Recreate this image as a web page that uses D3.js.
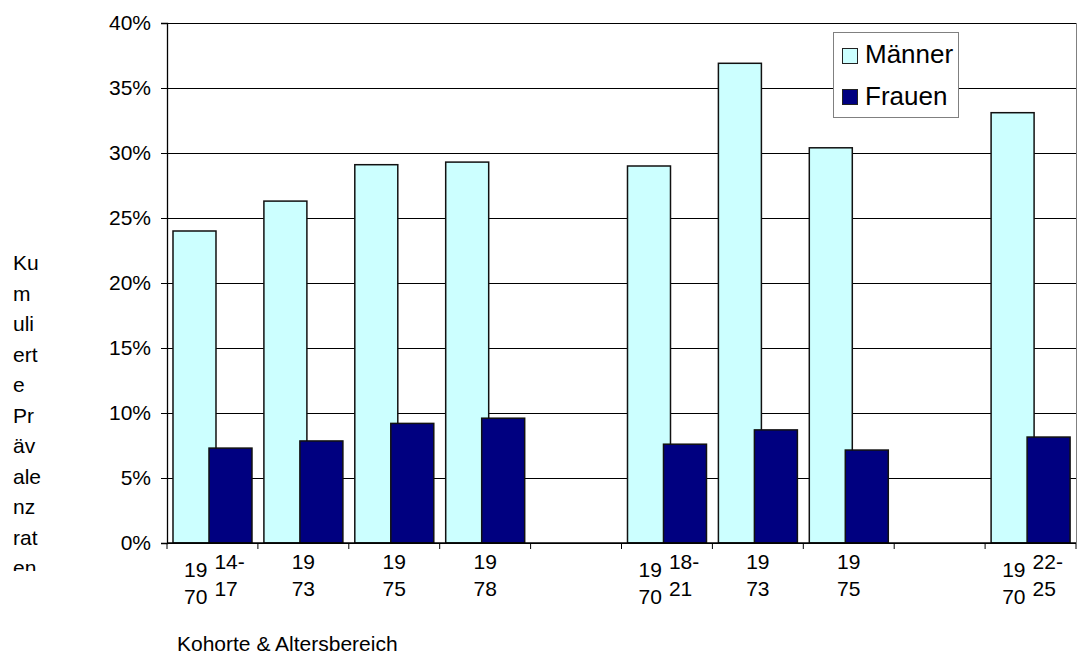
<!DOCTYPE html>
<html>
<head>
<meta charset="utf-8">
<script src="https://cdn.jsdelivr.net/npm/d3@7"></script>
<style>
  html, body { margin: 0; padding: 0; background: #fff; }
  svg { display: block; font-family: Arial, "Liberation Sans", sans-serif; }
</style>
</head>
<body>
<svg id="chart" width="1077" height="661"></svg>
<script>
// ---- data ----
const cohorts   = ["1970", "1973", "1975", "1978", "", "1970", "1973", "1975", "", "1970"];
const ageRanges = ["14-17", "", "", "", "", "18-21", "", "", "", "22-25"];
const maenner   = [24.0, 26.3, 29.1, 29.3, null, 29.0, 36.9, 30.4, null, 33.1];
const frauen    = [7.3, 7.85, 9.2, 9.6, null, 7.6, 8.7, 7.15, null, 8.15];
const yTicks    = [0, 5, 10, 15, 20, 25, 30, 35, 40];
const seriesNames = ["Männer", "Frauen"];
const yTitleLines = ["Ku", "m", "uli", "ert", "e", "Pr", "äv", "ale", "nz", "rat", "en"];
const xTitle = "Kohorte & Altersbereich";

(function () {
const colors = { "Männer": "#CCFFFF", "Frauen": "#000080" };
const FS = 21;

const svg = d3.select("#chart");
const pL = 167, pR = 1076, pT = 23, pB = 543;

const idx = d3.range(cohorts.length);
const x = d3.scaleBand().domain(idx).range([pL, pR]).padding(0);
const y = d3.scaleLinear().domain([0, 40]).range([pB, pT]);
const bw = x.bandwidth();

// gridlines
svg.append("g").selectAll("line").data(yTicks).join("line")
  .attr("x1", pL).attr("x2", pR)
  .attr("y1", d => y(d)).attr("y2", d => y(d))
  .attr("stroke", "#000").attr("stroke-width", 1).attr("shape-rendering", "crispEdges");

// right border
svg.append("line").attr("x1", pR).attr("x2", pR).attr("y1", pT).attr("y2", pB)
  .attr("stroke", "#808080").attr("stroke-width", 1).attr("shape-rendering", "crispEdges");

// bars
const mOff = bw * 0.066, mW = bw * 0.473;
const fOff = bw * 0.462, fW = bw * 0.473;
svg.append("g").selectAll("rect").data(idx.filter(i => maenner[i] != null)).join("rect")
  .attr("x", i => x(i) + mOff).attr("width", mW)
  .attr("y", i => y(maenner[i])).attr("height", i => y(0) - y(maenner[i]))
  .attr("fill", colors["Männer"]).attr("stroke", "#111").attr("stroke-width", 1.5);
svg.append("g").selectAll("rect").data(idx.filter(i => frauen[i] != null)).join("rect")
  .attr("x", i => x(i) + fOff).attr("width", fW)
  .attr("y", i => y(frauen[i])).attr("height", i => y(0) - y(frauen[i]))
  .attr("fill", colors["Frauen"]).attr("stroke", "#111").attr("stroke-width", 1.5);

// y axis
const yAxis = d3.axisLeft(y).tickValues(yTicks).tickFormat(d => d + "%").tickSize(6).tickPadding(10);
const gy = svg.append("g").attr("transform", `translate(${pL},0)`).call(yAxis);
gy.select(".domain").attr("stroke", "#000").attr("stroke-width", 1.3);
gy.selectAll(".tick line").attr("stroke", "#000");
gy.selectAll(".tick text").attr("font-size", FS).attr("font-family", "Arial, 'Liberation Sans', sans-serif").attr("fill", "#000");

// x axis (ticks at category boundaries)
const xB = idx.map(i => x(i)).concat([pR]);
svg.append("line").attr("x1", pL).attr("x2", pR).attr("y1", pB).attr("y2", pB)
  .attr("stroke", "#000").attr("stroke-width", 1.3);
svg.append("g").selectAll("line").data(xB).join("line")
  .attr("x1", d => d).attr("x2", d => d).attr("y1", pB).attr("y2", pB + 6)
  .attr("stroke", "#000").attr("stroke-width", 1);

// x labels
function split2(s) { const h = Math.ceil(s.length / 2); return [s.slice(0, h), s.slice(h)]; }
const gl = svg.append("g").attr("font-size", FS).attr("fill", "#000");
idx.forEach(i => {
  const c = x(i) + bw / 2;
  if (!cohorts[i]) return;
  const cp = split2(cohorts[i]);
  if (ageRanges[i]) {
    const dash = ageRanges[i].indexOf("-") + 1;
    const ap = [ageRanges[i].slice(0, dash), ageRanges[i].slice(dash)];
    cp.forEach((t, k) => gl.append("text").attr("x", c - 5).attr("y", 577 + k * 27).attr("text-anchor", "end").text(t));
    ap.forEach((t, k) => gl.append("text").attr("x", c + 2).attr("y", 569 + k * 27).attr("text-anchor", "start").text(t));
  } else {
    cp.forEach((t, k) => gl.append("text").attr("x", c).attr("y", 569 + k * 27).attr("text-anchor", "middle").text(t));
  }
});

// x title
svg.append("text").attr("x", 177).attr("y", 651).attr("font-size", FS).attr("fill", "#000").text(xTitle);

// y title (wrapped, clipped)
svg.append("clipPath").attr("id", "ytclip").append("rect").attr("x", 0).attr("y", 240).attr("width", 80).attr("height", 331);
svg.append("g").attr("clip-path", "url(#ytclip)").selectAll("text").data(yTitleLines).join("text")
  .attr("x", 13).attr("y", (d, k) => 270 + k * 30.5).attr("font-size", FS).attr("fill", "#000").text(d => d);

// legend
const lg = svg.append("g");
lg.append("rect").attr("x", 833.5).attr("y", 32.5).attr("width", 125).attr("height", 85)
  .attr("fill", "#fff").attr("stroke", "#808080").attr("stroke-width", 1);
seriesNames.forEach((n, k) => {
  lg.append("rect").attr("x", 842.5).attr("y", 48.5 + k * 41).attr("width", 15).attr("height", 15)
    .attr("fill", colors[n]).attr("stroke", "#222").attr("stroke-width", 1);
  lg.append("text").attr("x", 865).attr("y", 63 + k * 42).attr("font-size", 26).attr("fill", "#000").text(n);
});
})();
</script>
</body>
</html>
